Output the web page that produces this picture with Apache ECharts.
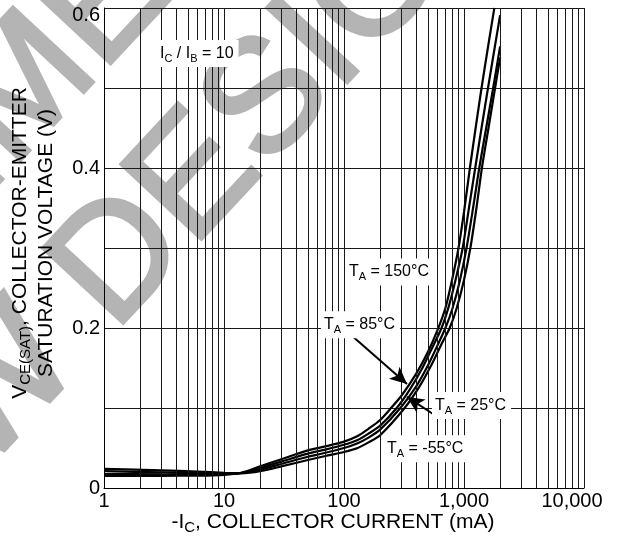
<!DOCTYPE html>
<html>
<head>
<meta charset="utf-8">
<script src="https://cdn.jsdelivr.net/npm/echarts@6/dist/echarts.min.js"></script>
<style>html,body{margin:0;padding:0;background:#fff}#c{width:618px;height:543px}</style>
</head>
<body>
<div id="c"></div>
<script>
const FONT = "'Liberation Sans', Arial, Helvetica, sans-serif";

const xTickLabels = ['1', '10', '100', '1,000', '10,000'];
const yTickLabels = ['0', '', '0.2', '', '0.4', '', '0.6'];

const minorGrid = [2,3,4,5,6,7,8,9, 20,30,40,50,60,70,80,90, 200,300,400,500,600,700,800,900, 2000,3000,4000,5000,6000,7000,8000,9000];

const ic_150 = [1,3,6,10,14,20,30,50,70,100,130,160,200,250,300,400,500,600,700,800,900,1000,1120,1250,1400,1600,1790];
const vce_150 = [0.015,0.0152,0.0155,0.0165,0.019,0.027,0.036,0.047,0.052,0.058,0.065,0.074,0.085,0.101,0.115,0.143,0.170,0.197,0.225,0.262,0.3,0.345,0.4,0.45,0.5,0.555,0.6];

const ic_85 = [1,3,6,10,14,20,30,50,70,100,130,160,200,275,350,450,550,650,750,850,975,1100,1240,1400,1585,1800,2000];
const vce_85 = [0.0175,0.017,0.0168,0.0172,0.019,0.025,0.033,0.043,0.048,0.054,0.06,0.068,0.078,0.1,0.122,0.15,0.177,0.2,0.228,0.26,0.3,0.35,0.4,0.45,0.5,0.55,0.591];

const ic_25 = [1,3,6,10,14,20,30,50,70,100,130,160,200,295,400,500,600,700,800,920,1050,1190,1340,1530,1750,2000];
const vce_25 = [0.021,0.0195,0.0185,0.018,0.0185,0.023,0.03,0.039,0.044,0.05,0.056,0.063,0.073,0.1,0.127,0.153,0.178,0.2,0.224,0.258,0.3,0.35,0.4,0.45,0.5,0.552];

const ic_m55 = [1,3,6,10,14,20,30,50,70,100,130,160,200,320,430,540,650,760,870,1000,1130,1270,1410,1600,1815,2000];
const vce_m55 = [0.024,0.022,0.0205,0.019,0.0185,0.021,0.027,0.035,0.04,0.045,0.05,0.057,0.066,0.1,0.128,0.155,0.18,0.2,0.225,0.26,0.3,0.35,0.4,0.45,0.5,0.538];

const annoTexts = [
  '{a|I}{b|C}{a| / I}{b|B}{a| = 10}',
  '{a|T}{b|A}{a| = 150°C}',
  '{a|T}{b|A}{a| = 85°C}',
  '{a|T}{b|A}{a| = 25°C}',
  '{a|T}{b|A}{a| = -55°C}'
];
const annoAt = [[2.93, 0.543], [110, 0.27], [68.1, 0.204], [573, 0.103], [228, 0.049]];

const arrow85 = [[112, 0.1925], [335, 0.13]];
const arrow25 = [[552, 0.0925], [335, 0.1138]];

function pairs(xs, ys) { return xs.map((x, i) => [x, ys[i]]); }

const chart = echarts.init(document.getElementById('c'), null, {renderer: 'canvas'});

const lineStyleCurve = {color: '#000', width: 2.2};
function curve(name, xs, ys, extra) {
  return Object.assign({
    name: name, type: 'line', data: pairs(xs, ys), showSymbol: false, symbol: 'none',
    smooth: 0.25, lineStyle: lineStyleCurve, silent: true, z: 3
  }, extra || {});
}

const option = {
  animation: false,
  backgroundColor: '#fff',
  grid: {left: 104, right: 34, top: 8, bottom: 55, containLabel: false, outerBoundsMode: 'none'},
  xAxis: {
    type: 'log', logBase: 10, min: 1, max: 10000,
    axisLine: {show: true, lineStyle: {color: '#000', width: 1}},
    axisTick: {show: false},
    splitLine: {show: true, lineStyle: {color: '#1a1a1a', width: 1}},
    minorTick: {show: false}, minorSplitLine: {show: false},
    axisLabel: {
      fontFamily: FONT, fontSize: 20, color: '#000', margin: 3,
      formatter: function (v) {
        const i = Math.round(Math.log10(v));
        const t = xTickLabels[i] || '';
        return i === xTickLabels.length - 1 ? '{last|' + t + '}' : t;
      },
      rich: {last: {fontFamily: FONT, fontSize: 20, color: '#000', padding: [0, 24, 0, 0]}}
    }
  },
  yAxis: {
    type: 'value', min: 0, max: 0.6, interval: 0.1,
    axisLine: {show: true, lineStyle: {color: '#000', width: 1}},
    axisTick: {show: false},
    splitLine: {show: true, lineStyle: {color: '#1a1a1a', width: 1}},
    axisLabel: {
      fontFamily: FONT, fontSize: 20, color: '#000', margin: 4,
      formatter: function (v) {
        const i = Math.round(v * 10);
        const t = yTickLabels[i] || '';
        return i === yTickLabels.length - 1 ? '{top|' + t + '}' : t;
      },
      rich: {top: {fontFamily: FONT, fontSize: 20, color: '#000', padding: [14, 0, 0, 0]}}
    }
  },
  series: [
    curve('TA = 150°C', ic_150, vce_150, {
      markLine: {
        silent: true, symbol: 'none', animation: false,
        label: {show: false},
        lineStyle: {color: '#1a1a1a', width: 1, type: 'solid'},
        emphasis: {disabled: true},
        data: minorGrid.map(v => ({xAxis: v}))
      }
    }),
    curve('TA = 85°C', ic_85, vce_85, {
      markLine: {
        silent: true, symbol: ['none', 'arrow'], symbolSize: [12, 17], animation: false,
        label: {show: false},
        lineStyle: {color: '#000', width: 2, type: 'solid'},
        emphasis: {disabled: true},
        data: [
          [{coord: arrow85[0]}, {coord: arrow85[1]}],
          [{coord: arrow25[0]}, {coord: arrow25[1]}]
        ]
      }
    }),
    curve('TA = 25°C', ic_25, vce_25),
    curve('TA = -55°C', ic_m55, vce_m55)
  ]
};
chart.setOption(option);

const subRich = (big, small) => ({
  a: {fontFamily: FONT, fontSize: big, lineHeight: big + 5, fill: '#000'},
  b: {fontFamily: FONT, fontSize: small, lineHeight: Math.round(small * 0.75), verticalAlign: 'bottom', fill: '#000'}
});

const rot = 47 * Math.PI / 180;
const wmStyle = {fontFamily: FONT, fontSize: 159, fill: '#b4b4b4', stroke: '#b4b4b4', lineWidth: 4, align: 'center', verticalAlign: 'middle'};
const graphics = [
  {type: 'text', x: -117, y: 243, rotation: rot, z: -10, silent: true,
   style: Object.assign({text: 'NOT RECOMMENDED'}, wmStyle)},
  {type: 'text', x: 19, y: 370, rotation: rot, z: -10, silent: true,
   style: Object.assign({text: 'FOR NEW DESIGN'}, wmStyle)},
  {type: 'text', x: 20.5, y: 243, rotation: Math.PI / 2, z: 100, silent: true,
   style: {text: '{a|V}{b|CE(SAT)}{a|, COLLECTOR-EMITTER}', rich: subRich(21, 15), align: 'center', verticalAlign: 'middle', fill: '#000'}},
  {type: 'text', x: 46.5, y: 243, rotation: Math.PI / 2, z: 100, silent: true,
   style: {text: '{a|SATURATION VOLTAGE (V)}', rich: subRich(21, 15), align: 'center', verticalAlign: 'middle', fill: '#000'}},
  {type: 'text', x: 333, y: 522.5, z: 100, silent: true,
   style: {text: '{a|-I}{b|C}{a|, COLLECTOR CURRENT (mA)}', rich: subRich(21, 15), align: 'center', verticalAlign: 'middle', fill: '#000'}}
];
annoTexts.forEach((t, i) => {
  const p = chart.convertToPixel({gridIndex: 0}, annoAt[i]);
  graphics.push({
    type: 'text', x: p[0] - 3, y: p[1], z: 100, silent: true,
    style: {text: t, rich: subRich(16, 11), align: 'left', verticalAlign: 'middle', fill: '#000',
            backgroundColor: '#fff', padding: [3, 5, 3, 3]}
  });
});
chart.setOption({graphic: graphics});
</script>
</body>
</html>
